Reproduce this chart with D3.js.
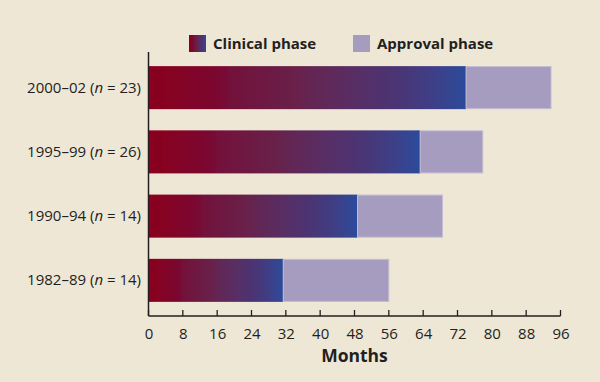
<!DOCTYPE html>
<html>
<head>
<meta charset="utf-8">
<script src="https://cdn.jsdelivr.net/npm/d3@7"></script>
<style>
	body { margin: 0; background: #efe7d6; }
	svg { display: block; font-family: "Open Sans", sans-serif; }
</style>
</head>
<body>
<script>
var periods = ["2000–02", "1995–99", "1990–94", "1982–89"];
var counts = [23, 26, 14, 14];
var clinical = [74, 63.3, 48.7, 31.4];
var approval = [19.9, 14.7, 19.9, 24.7];
var xTicks = [0, 8, 16, 24, 32, 40, 48, 56, 64, 72, 80, 88, 96];

var w = 600;
var h = 382;
var padLeft = 148.5;
var padRight = 560.5;
var plotTop = 52;
var plotBottom = 316;

var dataset = periods.map((p, i) => ({
	period: p,
	n: counts[i],
	clinical: clinical[i],
	approval: approval[i]
}));

var svg = d3.select("body")
	.append("svg")
	.attr("width", w)
	.attr("height", h);

svg.append("rect")
	.attr("width", w)
	.attr("height", h)
	.attr("fill", "#efe7d6");

// red to blue stripes of the clinical phase
var stops = [
	[0, "#8b0021"], [0.05, "#85001f"], [0.05, "#88021f"], [0.12, "#820428"],
	[0.2, "#7c062e"], [0.25, "#760c36"], [0.25, "#74103a"], [0.32, "#70163f"],
	[0.4, "#6b1c45"], [0.46, "#6a2049"], [0.52, "#622654"], [0.6, "#5c2b5e"],
	[0.68, "#553068"], [0.75, "#4e3270"], [0.82, "#46387a"], [0.88, "#403d84"],
	[0.94, "#37448f"], [1, "#2b4b9c"]
];
var grad = svg.append("defs")
	.append("linearGradient")
	.attr("id", "clin")
	.attr("x1", "0").attr("x2", "1")
	.attr("y1", "0").attr("y2", "0");
grad.selectAll("stop")
	.data(stops)
	.enter()
	.append("stop")
	.attr("offset", d => d[0])
	.attr("stop-color", d => d[1]);

var xScale = d3.scaleLinear()
	.domain([0, 96])
	.range([padLeft, padRight]);

var yScale = d3.scaleBand()
	.domain(periods)
	.range([plotTop, plotBottom])
	.paddingInner(0.33)
	.paddingOuter(0.22);

svg.selectAll(".clin")
	.data(dataset)
	.enter()
	.append("rect")
	.attr("class", "clin")
	.attr("x", xScale(0))
	.attr("y", d => yScale(d.period))
	.attr("width", d => xScale(d.clinical) - xScale(0))
	.attr("height", yScale.bandwidth())
	.attr("fill", "url(#clin)");

svg.selectAll(".appr")
	.data(dataset)
	.enter()
	.append("rect")
	.attr("class", "appr")
	.attr("x", d => xScale(d.clinical))
	.attr("y", d => yScale(d.period) + 0.5)
	.attr("width", d => xScale(d.clinical + d.approval) - xScale(d.clinical) - 0.5)
	.attr("height", yScale.bandwidth() - 1)
	.attr("fill", "#a69cbf")
	.attr("stroke", "#c3bbd3")
	.attr("stroke-width", 1);

// category labels
var labels = svg.selectAll(".lab")
	.data(dataset)
	.enter()
	.append("text")
	.attr("class", "lab")
	.attr("x", 141)
	.attr("y", d => yScale(d.period) + yScale.bandwidth() / 2 + 5)
	.attr("text-anchor", "end")
	.attr("font-size", 15)
	.attr("fill", "#231f20");
labels.append("tspan").text(d => d.period + " (");
labels.append("tspan").attr("font-style", "italic").text("n");
labels.append("tspan").text(d => " = " + d.n + ")");

// axes
var xAxis = d3.axisBottom(xScale)
	.tickValues(xTicks)
	.tickSize(0)
	.tickPadding(12);

var gx = svg.append("g")
	.attr("transform", "translate(0," + plotBottom + ")")
	.call(xAxis);
gx.select(".domain").remove();
gx.selectAll("text")
	.attr("font-size", 15)
	.attr("font-family", "Open Sans, sans-serif")
	.attr("fill", "#231f20");

svg.selectAll(".tk")
	.data(xTicks)
	.enter()
	.append("line")
	.attr("class", "tk")
	.attr("x1", d => xScale(d))
	.attr("x2", d => xScale(d))
	.attr("y1", plotBottom)
	.attr("y2", plotBottom - 6)
	.attr("stroke", "#231f20")
	.attr("stroke-width", 1.3);

svg.append("line")
	.attr("x1", xScale(0))
	.attr("x2", xScale(96))
	.attr("y1", plotBottom)
	.attr("y2", plotBottom)
	.attr("stroke", "#231f20")
	.attr("stroke-width", 1.5);

svg.append("line")
	.attr("x1", xScale(0))
	.attr("x2", xScale(0))
	.attr("y1", plotTop)
	.attr("y2", plotBottom)
	.attr("stroke", "#231f20")
	.attr("stroke-width", 1.5);

svg.append("text")
	.attr("x", xScale(48))
	.attr("y", 362)
	.attr("text-anchor", "middle")
	.attr("font-size", 17.5)
	.attr("font-weight", "bold")
	.attr("fill", "#231f20")
	.text("Months");

// legend
svg.append("rect")
	.attr("x", 189).attr("y", 35)
	.attr("width", 17).attr("height", 17)
	.attr("fill", "url(#clin)");
svg.append("text")
	.attr("x", 213).attr("y", 49)
	.attr("font-size", 15)
	.attr("font-weight", "bold")
	.attr("fill", "#231f20")
	.text("Clinical phase");

svg.append("rect")
	.attr("x", 353).attr("y", 35)
	.attr("width", 17).attr("height", 17)
	.attr("fill", "#a69cbf");
svg.append("text")
	.attr("x", 377).attr("y", 49)
	.attr("font-size", 15)
	.attr("font-weight", "bold")
	.attr("fill", "#231f20")
	.text("Approval phase");
</script>
</body>
</html>
